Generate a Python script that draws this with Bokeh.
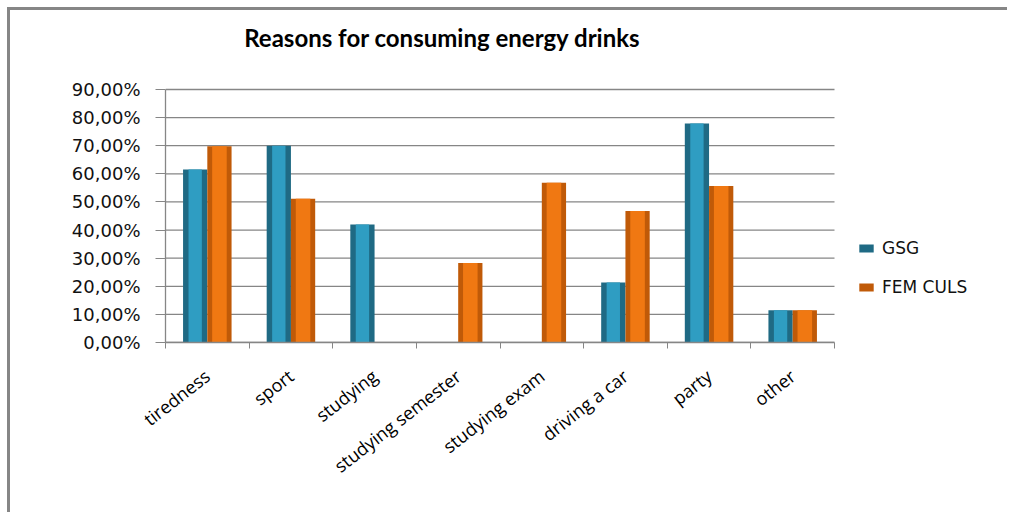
from bokeh.plotting import figure
from bokeh.models import (ColumnDataSource, Range1d, LinearAxis, FixedTicker,
                          Legend, LegendItem, Label)
from bokeh.transform import dodge
from bokeh.embed import file_html
from bokeh.resources import INLINE

categories = ["tiredness", "sport", "studying", "studying semester", "studying exam",
              "driving a car", "party", "other"]
gsg = [61.5, 70.0, 42.0, 0.0, 0.0, 21.3, 77.9, 11.5]
fem_culs = [69.8, 51.1, 0.0, 28.3, 56.8, 46.8, 55.7, 11.5]
y_ticks = [0, 10, 20, 30, 40, 50, 60, 70, 80, 90]
y_tick_labels = ["0,00%", "10,00%", "20,00%", "30,00%", "40,00%", "50,00%",
                 "60,00%", "70,00%", "80,00%", "90,00%"]
series_names = ["GSG", "FEM CULS"]
title_text = "Reasons for consuming energy drinks"

GRID = "#868686"
TEAL_DARK, TEAL = "#1F6A84", "#2F9DC2"
ORANGE_DARK, ORANGE = "#C05A08", "#F07812"

n = len(categories)
ymax = y_ticks[-1]
centers = [i + 0.5 for i in range(n)]  # category slot centres on the index axis
src = ColumnDataSource(dict(cat=categories, xc=centers, gsg=gsg, fem=fem_culs))

# The frame also holds the title area above and the legend area to the right;
# the category slots take PLOT_W of FRAME_W pixels, the value axis PLOT_H of FRAME_H.
FRAME_W, PLOT_W = 840, 669
FRAME_H, PLOT_H = 322, 253
p = figure(width=1000, height=505, x_range=Range1d(0, n * FRAME_W / PLOT_W),
           y_range=Range1d(0, ymax * FRAME_H / PLOT_H),
           output_backend="svg", toolbar_location=None, x_axis_location=None,
           y_axis_location=None, min_border_left=155, min_border_right=5,
           min_border_top=10, min_border_bottom=173)
p.styles = {"border-left": "3px solid #868686", "border-top": "3px solid #868686",
            "margin-left": "7px", "margin-top": "7px"}
p.outline_line_color = None
p.background_fill_color = "white"
p.border_fill_color = "white"
p.xgrid.grid_line_color = None
p.ygrid.grid_line_color = None

# horizontal grid lines over the category slots only
p.segment(x0=[0] * len(y_ticks), x1=[n] * len(y_ticks), y0=y_ticks, y1=y_ticks,
          line_color=GRID, line_width=1.3, level="underlay")

title = Label(x=n * 0.414, y=ymax * 1.205, text=title_text, text_align="center",
              text_baseline="alphabetic", text_font="Lato", text_font_size="24px",
              text_font_style="bold", text_color="black")
p.add_layout(title)

# y axis
yax = LinearAxis(ticker=FixedTicker(ticks=y_ticks), bounds=(0, ymax),
                 major_label_overrides={v: s for v, s in zip(y_ticks, y_tick_labels)})
yax.axis_line_color = GRID
yax.axis_line_width = 1.3
yax.major_tick_line_color = GRID
yax.major_tick_out = 10
yax.major_tick_in = 0
yax.minor_tick_line_color = None
yax.major_label_standoff = 15
yax.major_label_text_font = "DejaVu Sans"
yax.major_label_text_font_size = "18px"
yax.major_label_text_color = "#111111"
p.add_layout(yax, "left")

# x axis: labels at category centres, minor ticks at category boundaries
xax = LinearAxis(ticker=FixedTicker(ticks=centers, minor_ticks=list(range(n + 1))),
                 major_label_overrides={c: s for c, s in zip(centers, categories)},
                 bounds=(0, n))
xax.axis_line_color = GRID
xax.axis_line_width = 1.3
xax.major_tick_line_color = None
xax.major_tick_out = 0
xax.major_tick_in = 0
xax.minor_tick_line_color = GRID
xax.minor_tick_out = 6
xax.minor_tick_in = 0
xax.major_label_orientation = 0.66
xax.major_label_standoff = 25
xax.major_label_text_font = "Open Sans"
xax.major_label_text_font_size = "18px"
xax.major_label_text_color = "black"
p.add_layout(xax, "below")

# bars
W = 0.29
rg_out = p.vbar(x=dodge("xc", -W / 2), top="gsg", width=W, source=src,
                fill_color=TEAL_DARK, line_color=None)
p.vbar(x=dodge("xc", -W / 2), top="gsg", width=W * 0.55, source=src,
       fill_color=TEAL, line_color=None)
rf_out = p.vbar(x=dodge("xc", W / 2), top="fem", width=W, source=src,
                fill_color=ORANGE_DARK, line_color=None)
p.vbar(x=dodge("xc", W / 2), top="fem", width=W * 0.6, source=src,
       fill_color=ORANGE, line_color=None)

legend = Legend(items=[LegendItem(label=series_names[0], renderers=[rg_out]),
                       LegendItem(label=series_names[1], renderers=[rf_out])],
                location=(692, 45), orientation="vertical")
legend.glyph_width = 18
legend.glyph_height = 10
legend.label_height = 20
legend.spacing = 19
legend.padding = 0
legend.margin = 0
legend.border_line_color = None
legend.background_fill_alpha = 0
legend.label_text_font = "DejaVu Sans"
legend.label_text_font_size = "17px"
legend.label_text_color = "#111111"
legend.label_standoff = 7
p.add_layout(legend, "center")

open("out.html", "w").write(file_html(p, INLINE))
